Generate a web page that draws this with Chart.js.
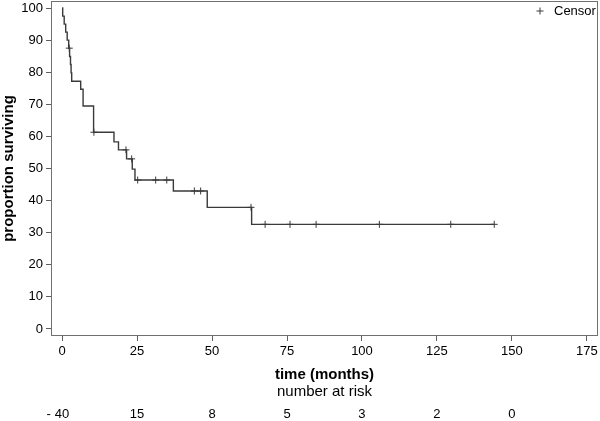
<!DOCTYPE html>
<html>
<head>
<meta charset="utf-8">
<script src="https://cdn.jsdelivr.net/npm/chart.js@4.4.0/dist/chart.umd.min.js"></script>
<style>
  html, body { margin: 0; padding: 0; background: #fff; }
  #wrap { width: 600px; height: 421px; }
</style>
</head>
<body>
<div id="wrap"><canvas id="kmPlot" width="600" height="421"></canvas></div>
<script>
// survival curve: time (months) of each drop and the proportion after it
var stepTimes = [0, 0.2, 0.7, 1.2, 1.7, 2.2, 2.5, 2.8, 3.0, 3.2, 6.2, 7.0, 10.5, 17.3, 18.8, 21.5, 23.4, 24.3, 37.1, 48.4, 63.2, 144.1];
var stepSurv  = [100, 97.5, 95, 92.5, 90, 87.5, 84.9, 82.4, 79.8, 77.2, 74.7, 69.5, 61.3, 58.3, 55.8, 53.0, 49.8, 46.4, 43.0, 37.9, 32.6, 32.6];

// censored observations
var censorTimes = [2.4, 10.6, 21.3, 23.2, 25.2, 31.2, 34.9, 44.1, 46.2, 63.0, 67.7, 76.0, 84.7, 105.8, 129.6, 144.1];
var censorSurv  = [87.5, 61.3, 55.8, 53.0, 46.4, 46.4, 46.4, 43.0, 43.0, 37.9, 32.6, 32.6, 32.6, 32.6, 32.6, 32.6];

var xTicks = [0, 25, 50, 75, 100, 125, 150, 175];
var yTicks = [0, 10, 20, 30, 40, 50, 60, 70, 80, 90, 100];

// number at risk row
var riskTimes  = [0, 25, 50, 75, 100, 125, 150];
var riskCounts = [40, 15, 8, 5, 3, 2, 0];

Chart.defaults.font.family = "'Liberation Sans', Arial, sans-serif";
Chart.defaults.color = '#000';

function pts(xs, ys) {
  var out = [];
  for (var i = 0; i < xs.length; i++) out.push({x: xs[i], y: ys[i]});
  return out;
}

var extras = {
  id: 'extras',
  afterDraw: function (chart) {
    var ctx = chart.ctx, a = chart.chartArea, xs = chart.scales.x;
    ctx.save();
    ctx.strokeStyle = '#707070';
    ctx.lineWidth = 1;
    ctx.strokeRect(Math.round(a.left) + 0.5, Math.round(a.top) + 0.5,
      Math.round(a.right - a.left) - 1, Math.round(a.bottom - a.top) - 1);

    // legend: + Censor
    var cens = chart.data.datasets[1];
    ctx.strokeStyle = cens.borderColor;
    Chart.helpers.drawPoint(ctx, {pointStyle: 'cross', radius: 3.5, borderWidth: 1}, a.right - 58, a.top + 10);
    ctx.fillStyle = '#000';
    ctx.textBaseline = 'middle';
    ctx.textAlign = 'left';
    ctx.font = "13px 'Liberation Sans', Arial, sans-serif";
    ctx.fillText(cens.label, a.right - 44, a.top + 10);

    ctx.textAlign = 'center';
    ctx.font = "15px 'Liberation Sans', Arial, sans-serif";
    ctx.fillText('number at risk', (a.left + a.right) / 2, a.bottom + 56);

    ctx.font = "13px 'Liberation Sans', Arial, sans-serif";
    for (var i = 0; i < riskTimes.length; i++) {
      var px = xs.getPixelForValue(riskTimes[i]);
      var txt = String(riskCounts[i]);
      ctx.textAlign = 'center';
      ctx.fillText(txt, px, a.bottom + 78);
      if (i === 0) {
        ctx.textAlign = 'right';
        ctx.fillText('-', px - ctx.measureText(txt).width / 2 - 4, a.bottom + 78);
      }
    }
    ctx.restore();
  }
};

var ctx = document.getElementById('kmPlot').getContext('2d');
var kmChart = new Chart(ctx, {
  type: 'scatter',
  data: {
    datasets: [{
      label: 'Survival',
      data: pts(stepTimes, stepSurv),
      showLine: true,
      stepped: 'before',
      borderColor: '#3a3a3a',
      borderWidth: 1.4,
      pointRadius: 0
    }, {
      label: 'Censor',
      data: pts(censorTimes, censorSurv),
      showLine: false,
      pointStyle: 'cross',
      pointRadius: 3.5,
      borderColor: '#3a3a3a',
      borderWidth: 1,
      backgroundColor: '#3a3a3a'
    }]
  },
  options: {
    responsive: false,
    animation: false,
    layout: { autoPadding: false, padding: { top: 1, right: 2, left: 0, bottom: 0 } },
    plugins: {
      tooltip: { enabled: false },
      legend: { display: false }
    },
    scales: {
      x: {
        type: 'linear',
        min: -3.7,
        max: 178.7,
        afterBuildTicks: function (s) { s.ticks = xTicks.map(function (v) { return {value: v}; }); },
        afterFit: function (s) { s.height = 85; s.paddingLeft = 0; s.paddingRight = 0; },
        grid: { drawOnChartArea: false, tickLength: 5, color: '#606060' },
        border: { display: false },
        ticks: { padding: 3, color: '#000', font: { size: 13 }, maxRotation: 0, autoSkip: false },
        title: {
          display: true,
          text: 'time (months)',
          color: '#000',
          font: { size: 15, weight: 'bold' },
          padding: { top: 0, bottom: 37 }
        }
      },
      y: {
        min: -2.2,
        max: 102.2,
        afterBuildTicks: function (s) { s.ticks = yTicks.map(function (v) { return {value: v}; }); },
        afterFit: function (s) { s.width = 51; s.paddingTop = 0; s.paddingBottom = 0; },
        grid: { drawOnChartArea: false, tickLength: 5, color: '#606060' },
        border: { display: false },
        ticks: { padding: 3, color: '#000', font: { size: 13 }, autoSkip: false },
        title: {
          display: true,
          text: 'proportion surviving',
          color: '#000',
          font: { size: 15, weight: 'bold' },
          padding: { top: 0, bottom: 0 }
        }
      }
    }
  },
  plugins: [extras]
});
</script>
</body>
</html>
